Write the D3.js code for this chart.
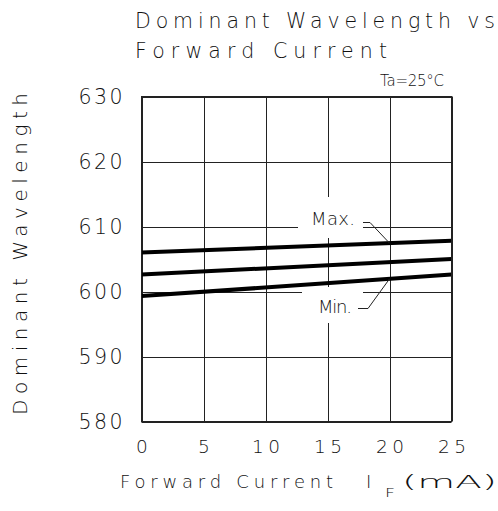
<!DOCTYPE html>
<html>
<head>
<meta charset="utf-8">
<script src="https://cdn.jsdelivr.net/npm/d3@7"></script>
<style>
  body { margin: 0; background: #fff; }
  text { font-family: "DejaVu Sans", sans-serif; font-weight: 200; fill: #111; }
</style>
</head>
<body>
<div id="chart"><svg></svg></div>
<script>
const width = 498;
const height = 511;

// data
const current = [0, 25];
const maxWl = [606.0, 607.8];
const typWl = [602.6, 605.0];
const minWl = [599.3, 602.6];
const xTicks = [0, 5, 10, 15, 20, 25];
const yTicks = [580, 590, 600, 610, 620, 630];

const svg = d3.select("#chart svg")
  .attr("width", width)
  .attr("height", height);

const x = d3.scaleLinear().domain([0, 25]).range([141.5, 451.5]);
const y = d3.scaleLinear().domain([580, 630]).range([421.5, 96.5]);

// grid
const grid = svg.append("g");
grid.selectAll(".vg")
  .data(xTicks)
  .enter().append("line")
  .attr("x1", d => Math.round(x(d)) + 0.5)
  .attr("x2", d => Math.round(x(d)) + 0.5)
  .attr("y1", y(630)).attr("y2", y(580))
  .attr("stroke", "#222").attr("stroke-width", 1);
grid.selectAll(".hg")
  .data(yTicks)
  .enter().append("line")
  .attr("y1", d => Math.round(y(d)) + 0.5)
  .attr("y2", d => Math.round(y(d)) + 0.5)
  .attr("x1", x(0)).attr("x2", x(25))
  .attr("stroke", "#222").attr("stroke-width", 1);

// white boxes behind the Max./Min. labels
svg.append("rect").attr("x", 298).attr("y", 197).attr("width", 65).attr("height", 41).attr("fill", "#fff");
svg.append("rect").attr("x", 302).attr("y", 287).attr("width", 61).attr("height", 36).attr("fill", "#fff");

// curves
const line = d3.line()
  .x((d, i) => x(current[i]))
  .y(d => y(d));

[maxWl, typWl, minWl].forEach(s => {
  svg.append("path")
    .attr("d", line(s))
    .attr("fill", "none")
    .attr("stroke", "#000")
    .attr("stroke-width", 4);
});

// axes
const yAxis = svg.append("g")
  .attr("transform", `translate(${x(0)},0)`)
  .call(d3.axisLeft(y).tickValues(yTicks).tickSize(0).tickPadding(19));
yAxis.select(".domain").remove();
yAxis.selectAll("text")
  .attr("font-size", 20.5)
  .attr("fill", "#111")
  .attr("textLength", 44)
  .attr("lengthAdjust", "spacing");

const xAxis = svg.append("g")
  .attr("transform", `translate(0,${y(580)})`)
  .call(d3.axisBottom(x).tickValues(xTicks).tickSize(0).tickPadding(18));
xAxis.select(".domain").remove();
xAxis.selectAll("text")
  .attr("font-size", 18.5)
  .attr("fill", "#111")
  .attr("textLength", d => String(d).length * 14)
  .attr("lengthAdjust", "spacing");

// frame
svg.append("rect")
  .attr("x", x(0)).attr("y", y(630))
  .attr("width", x(25) - x(0)).attr("height", y(580) - y(630))
  .attr("fill", "none").attr("stroke", "#222").attr("stroke-width", 1);

// titles
svg.append("text").attr("x", 135).attr("y", 28).attr("font-size", 20.5)
  .attr("textLength", 360).attr("lengthAdjust", "spacing")
  .text("Dominant Wavelength vs");
svg.append("text").attr("x", 135).attr("y", 58).attr("font-size", 20.5)
  .attr("textLength", 252).attr("lengthAdjust", "spacing")
  .text("Forward Current");
svg.append("text").attr("x", 380).attr("y", 86).attr("font-size", 15)
  .attr("textLength", 64).attr("lengthAdjust", "spacing")
  .text("Ta=25°C");

// y title
svg.append("text")
  .attr("transform", "translate(27,254) rotate(-90)")
  .attr("text-anchor", "middle")
  .attr("font-size", 20)
  .attr("textLength", 322).attr("lengthAdjust", "spacing")
  .text("Dominant Wavelength");

// x title
svg.append("text").attr("x", 120).attr("y", 488).attr("font-size", 18)
  .attr("textLength", 213).attr("lengthAdjust", "spacing")
  .text("Forward Current");
svg.append("text").attr("x", 366).attr("y", 488).attr("font-size", 18).text("I");
svg.append("text").attr("x", 385).attr("y", 497).attr("font-size", 13)
  .attr("textLength", 10).attr("lengthAdjust", "spacingAndGlyphs").text("F");
svg.append("text").attr("x", 402).attr("y", 488).attr("font-size", 18)
  .attr("textLength", 95).attr("lengthAdjust", "spacingAndGlyphs")
  .text("(mA)");

// labels with leaders
svg.append("text").attr("x", 311).attr("y", 225).attr("font-size", 18)
  .attr("textLength", 44).attr("lengthAdjust", "spacing").text("Max.");
svg.append("text").attr("x", 318).attr("y", 313).attr("font-size", 18)
  .attr("textLength", 34).attr("lengthAdjust", "spacing").text("Min.");

const maxAt20 = d3.scaleLinear().domain(current).range(maxWl)(20);
const minAt20 = d3.scaleLinear().domain(current).range(minWl)(20);
svg.append("polyline")
  .attr("points", `363,222.5 370,222.5 ${x(20)},${y(maxAt20)}`)
  .attr("fill", "none").attr("stroke", "#222").attr("stroke-width", 1);
svg.append("polyline")
  .attr("points", `358,308.5 368,308.5 ${x(20)},${y(minAt20)}`)
  .attr("fill", "none").attr("stroke", "#222").attr("stroke-width", 1);
</script>
</body>
</html>
